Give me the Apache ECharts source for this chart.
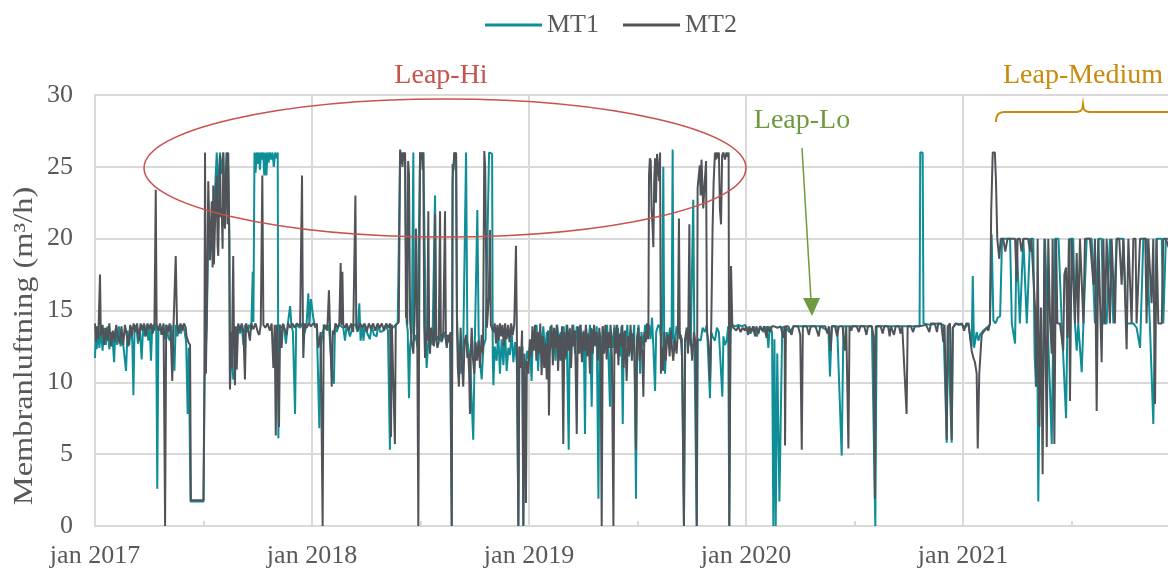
<!DOCTYPE html>
<html><head><meta charset="utf-8">
<script src="https://cdn.jsdelivr.net/npm/echarts@6/dist/echarts.min.js"></script>
<style>html,body{margin:0;padding:0;background:#fff}#c{width:1168px;height:571px}</style>
</head><body><div id="c"></div>
<script>
// x = decimal year, y = m3/h
const seriesNames = ['MT1', 'MT2'];
const yearTicks = [2017, 2018, 2019, 2020, 2021];
const yTitle = 'Membranluftning (m³/h)';

const mt2_2017 = [[2017.000,14.1],[2017.004,12.8],[2017.008,13.9],[2017.015,13.0],[2017.023,17.5],[2017.027,13.2],[2017.035,14.0],[2017.042,12.6],[2017.050,13.8],[2017.058,12.9],[2017.066,14.1],[2017.074,12.5],[2017.082,13.6],[2017.090,12.8],[2017.098,14.0],[2017.106,13.1],[2017.114,12.7],[2017.122,13.9],[2017.130,12.6],[2017.138,14.0],[2017.146,13.3],[2017.154,12.5],[2017.162,14.0],[2017.170,13.2],[2017.178,14.1],[2017.186,13.5],[2017.194,14.1],[2017.202,12.9],[2017.210,14.1],[2017.218,13.6],[2017.226,14.1],[2017.234,13.2],[2017.242,14.1],[2017.250,13.7],[2017.258,14.1],[2017.266,13.4],[2017.274,14.1],[2017.280,23.4],[2017.284,14.0],[2017.292,13.6],[2017.300,14.1],[2017.308,13.3],[2017.316,14.1],[2017.323,0],[2017.328,14.0],[2017.336,13.5],[2017.344,14.1],[2017.350,12.9],[2017.356,10.1],[2017.362,14.0],[2017.372,18.8],[2017.378,14.0],[2017.386,13.4],[2017.394,14.1],[2017.402,13.6],[2017.410,14.1],[2017.418,13.8],[2017.422,13.2],[2017.430,12.8],[2017.438,12.6],[2017.442,1.8],[2017.470,1.8],[2017.500,1.8],[2017.504,10.0],[2017.507,26.0],[2017.511,10.6],[2017.515,14.5],[2017.522,24.0],[2017.530,18.5],[2017.538,22.6],[2017.542,18.0],[2017.545,23.7],[2017.548,18.2],[2017.555,22.0],[2017.561,24.4],[2017.565,19.5],[2017.568,18.8],[2017.572,23.0],[2017.576,25.8],[2017.580,21.5],[2017.584,22.1],[2017.588,19.3],[2017.591,26.0],[2017.595,22.0],[2017.599,20.7],[2017.603,24.5],[2017.607,26.0],[2017.611,21.0],[2017.614,26.0],[2017.619,19.8],[2017.622,9.5],[2017.626,13.5],[2017.630,11.0],[2017.637,18.8],[2017.641,12.0],[2017.645,9.8],[2017.649,13.9],[2017.653,10.9],[2017.660,14.1],[2017.668,13.6],[2017.676,14.1],[2017.684,13.5],[2017.691,10.2],[2017.696,14.1],[2017.705,13.7],[2017.714,12.9],[2017.720,14.1],[2017.730,13.7],[2017.740,14.1],[2017.750,13.5],[2017.757,13.3],[2017.764,14.0],[2017.771,24.4],[2017.776,14.0],[2017.785,13.8],[2017.795,14.1],[2017.806,13.6],[2017.814,14.1],[2017.822,11.0],[2017.828,14.0],[2017.833,6.3],[2017.838,14.0],[2017.848,6.9],[2017.853,14.0],[2017.860,12.4],[2017.866,14.1],[2017.876,13.6],[2017.883,13.3],[2017.890,14.1],[2017.900,13.8],[2017.910,14.1],[2017.920,13.8],[2017.930,14.1],[2017.945,13.9],[2017.954,24.4],[2017.958,14.0],[2017.960,11.7],[2017.966,14.1],[2017.975,13.8],[2017.985,14.1],[2017.995,13.9]];

const mt2_2018 = [[2018.006,14.1],[2018.015,13.9],[2018.022,14.1],[2018.029,12.4],[2018.040,13.5],[2018.049,0],[2018.054,14.0],[2018.066,13.7],[2018.072,14.1],[2018.078,16.4],[2018.084,13.2],[2018.091,9.7],[2018.096,13.6],[2018.101,13.3],[2018.108,14.1],[2018.118,13.8],[2018.126,14.1],[2018.132,18.3],[2018.136,14.0],[2018.140,17.7],[2018.144,14.0],[2018.152,13.8],[2018.160,14.1],[2018.170,13.6],[2018.180,14.1],[2018.190,13.5],[2018.200,23.0],[2018.204,14.0],[2018.212,13.6],[2018.222,14.1],[2018.232,13.8],[2018.242,14.1],[2018.252,13.5],[2018.262,14.1],[2018.272,13.7],[2018.282,14.1],[2018.292,13.6],[2018.302,14.1],[2018.312,13.8],[2018.322,14.1],[2018.332,13.6],[2018.342,14.1],[2018.352,13.8],[2018.360,14.1],[2018.364,6.2],[2018.368,14.0],[2018.375,13.9],[2018.382,5.7],[2018.386,14.0],[2018.395,14.1],[2018.400,14.2],[2018.406,26.2],[2018.410,25.6],[2018.413,26.0],[2018.417,25.0],[2018.421,26.0],[2018.425,25.4],[2018.429,26.0],[2018.433,14.5],[2018.436,19.8],[2018.439,14.0],[2018.443,25.4],[2018.447,24.5],[2018.452,14.3],[2018.459,12.8],[2018.467,12.0],[2018.473,14.5],[2018.479,20.7],[2018.485,13.5],[2018.490,0],[2018.494,14.0],[2018.498,26.0],[2018.502,25.5],[2018.506,26.0],[2018.510,24.8],[2018.513,26.0],[2018.517,14.0],[2018.521,11.7],[2018.526,13.5],[2018.531,12.9],[2018.536,21.9],[2018.540,13.0],[2018.544,12.0],[2018.548,13.8],[2018.555,13.4],[2018.562,12.5],[2018.567,21.7],[2018.572,13.0],[2018.578,12.4],[2018.584,12.8],[2018.590,21.9],[2018.594,13.2],[2018.598,12.9],[2018.605,13.5],[2018.613,21.9],[2018.617,13.0],[2018.621,12.4],[2018.626,13.3],[2018.632,12.8],[2018.638,13.5],[2018.644,0],[2018.648,25.2],[2018.652,24.8],[2018.656,26.0],[2018.660,25.6],[2018.664,26.0],[2018.668,14.0],[2018.672,11.0],[2018.677,9.7],[2018.682,12.5],[2018.685,13.8],[2018.690,11.5],[2018.697,9.7],[2018.703,12.8],[2018.710,13.3],[2018.716,11.7],[2018.720,12.0],[2018.724,10.8],[2018.728,7.8],[2018.732,12.2],[2018.736,13.8],[2018.742,11.6],[2018.748,10.6],[2018.754,12.8],[2018.760,11.5],[2018.767,12.9],[2018.774,11.0],[2018.782,13.3],[2018.788,12.0],[2018.794,26.1],[2018.798,25.0],[2018.802,24.9],[2018.806,13.8],[2018.810,13.8],[2018.815,16.0],[2018.820,20.6],[2018.824,14.0],[2018.828,14.1],[2018.836,13.5],[2018.842,14.1],[2018.848,12.7],[2018.854,14.0],[2018.860,12.9],[2018.866,14.1],[2018.872,13.2],[2018.878,14.0],[2018.884,12.5],[2018.890,14.1],[2018.897,13.0],[2018.904,14.0],[2018.910,12.8],[2018.918,14.1],[2018.925,13.3],[2018.932,14.0],[2018.940,19.5],[2018.944,13.5],[2018.951,0],[2018.955,12.5],[2018.962,11.0],[2018.968,13.6],[2018.974,0],[2018.979,12.0],[2018.986,1.6],[2018.990,11.5],[2018.997,10.6]];

const mt2_2019 = [[2019.004,13.0],[2019.010,11.8],[2019.016,13.9],[2019.022,12.2],[2019.028,14.0],[2019.034,11.5],[2019.040,13.5],[2019.046,12.0],[2019.052,14.1],[2019.058,10.5],[2019.064,13.2],[2019.070,11.0],[2019.076,12.7],[2019.082,10.2],[2019.088,13.6],[2019.092,7.7],[2019.096,12.0],[2019.104,14.0],[2019.110,11.2],[2019.116,13.8],[2019.122,12.4],[2019.128,14.0],[2019.134,10.8],[2019.140,13.3],[2019.146,11.5],[2019.152,13.9],[2019.158,5.7],[2019.163,13.5],[2019.170,11.8],[2019.176,14.0],[2019.182,12.2],[2019.188,13.7],[2019.194,11.0],[2019.200,14.0],[2019.206,12.5],[2019.212,13.6],[2019.220,6.4],[2019.225,13.9],[2019.232,12.0],[2019.238,14.0],[2019.244,11.4],[2019.250,13.5],[2019.256,12.2],[2019.262,14.0],[2019.268,11.8],[2019.274,13.4],[2019.281,10.6],[2019.287,13.8],[2019.294,12.0],[2019.300,14.0],[2019.306,12.6],[2019.312,13.5],[2019.318,11.5],[2019.324,13.8],[2019.330,12.4],[2019.335,0],[2019.340,13.9],[2019.346,12.0],[2019.352,14.0],[2019.358,11.6],[2019.364,13.5],[2019.370,12.4],[2019.376,14.0],[2019.382,11.8],[2019.389,0],[2019.394,13.8],[2019.400,12.0],[2019.406,14.0],[2019.412,11.2],[2019.418,13.4],[2019.424,12.5],[2019.430,14.0],[2019.436,11.0],[2019.442,13.6],[2019.450,10.1],[2019.456,13.2],[2019.462,12.0],[2019.468,14.0],[2019.474,11.5],[2019.480,13.4],[2019.486,12.2],[2019.493,5.3],[2019.498,13.0],[2019.504,13.8],[2019.510,11.5],[2019.516,13.2],[2019.522,12.0],[2019.527,9.0],[2019.532,13.5],[2019.538,12.8],[2019.544,14.1],[2019.550,13.0],[2019.553,24.4],[2019.557,25.6],[2019.561,25.4],[2019.565,22.0],[2019.569,21.0],[2019.573,19.4],[2019.577,24.0],[2019.581,25.6],[2019.585,22.5],[2019.590,25.9],[2019.596,25.9],[2019.600,24.0],[2019.604,26.0],[2019.608,10.6],[2019.612,12.5],[2019.618,10.8],[2019.624,13.5],[2019.630,11.5],[2019.636,13.0],[2019.642,13.3],[2019.648,11.8],[2019.654,13.6],[2019.660,12.2],[2019.665,11.5],[2019.672,13.0],[2019.680,12.0],[2019.686,13.5],[2019.691,21.4],[2019.695,13.0],[2019.699,13.3],[2019.705,11.8],[2019.714,0],[2019.719,13.0],[2019.727,13.8],[2019.733,12.0],[2019.739,21.0],[2019.743,12.8],[2019.745,13.1],[2019.752,11.5],[2019.760,13.5],[2019.767,12.8],[2019.773,0],[2019.777,23.5],[2019.783,24.5],[2019.787,25.1],[2019.791,23.0],[2019.795,25.5],[2019.800,25.5],[2019.803,22.1],[2019.806,22.0],[2019.810,24.0],[2019.816,25.4],[2019.820,13.5],[2019.826,12.9],[2019.830,12.0],[2019.834,10.1],[2019.840,14.0],[2019.846,20.7],[2019.851,24.0],[2019.857,26.0],[2019.861,25.5],[2019.865,26.0],[2019.870,25.6],[2019.875,26.0],[2019.880,22.0],[2019.885,21.0],[2019.890,25.8],[2019.896,26.0],[2019.903,25.5],[2019.910,26.0],[2019.916,25.7],[2019.920,26.0],[2019.923,0],[2019.928,12.0],[2019.931,18.1],[2019.937,13.9],[2019.945,13.8],[2019.955,13.6],[2019.965,13.9],[2019.975,13.5],[2019.985,13.8],[2019.995,13.6]];

const mt2_2020 = [[2020.000,13.9],[2020.010,13.3],[2020.015,13.9],[2020.025,13.5],[2020.032,13.9],[2020.042,13.2],[2020.048,13.9],[2020.058,13.4],[2020.065,13.9],[2020.075,13.6],[2020.083,13.9],[2020.095,13.1],[2020.100,13.9],[2020.110,13.5],[2020.120,13.9],[2020.130,13.9],[2020.145,13.8],[2020.160,13.9],[2020.172,13.1],[2020.178,13.9],[2020.180,5.6],[2020.184,13.9],[2020.195,13.9],[2020.210,13.3],[2020.218,13.9],[2020.240,13.9],[2020.250,13.3],[2020.257,5.3],[2020.262,13.9],[2020.280,13.9],[2020.290,13.3],[2020.298,13.9],[2020.320,13.9],[2020.335,13.2],[2020.342,13.9],[2020.365,13.9],[2020.375,13.4],[2020.382,13.9],[2020.390,12.2],[2020.396,13.9],[2020.410,13.9],[2020.420,13.2],[2020.428,13.9],[2020.445,13.9],[2020.456,12.2],[2020.462,13.9],[2020.472,5.4],[2020.477,13.9],[2020.483,13.9],[2020.486,13.6],[2020.490,13.9],[2020.510,13.9],[2020.520,13.5],[2020.527,13.9],[2020.545,13.9],[2020.555,13.3],[2020.562,13.9],[2020.580,13.9],[2020.588,13.2],[2020.594,1.9],[2020.598,13.9],[2020.620,13.9],[2020.630,13.4],[2020.637,13.9],[2020.655,13.9],[2020.662,13.2],[2020.668,13.9],[2020.682,13.3],[2020.690,13.9],[2020.705,13.9],[2020.712,13.4],[2020.720,13.9],[2020.740,7.8],[2020.745,13.9],[2020.760,13.9],[2020.770,13.5],[2020.778,13.9],[2020.800,13.9],[2020.830,14.0],[2020.845,13.5],[2020.852,14.1],[2020.870,14.1],[2020.880,13.5],[2020.886,14.1],[2020.900,14.1],[2020.909,12.8],[2020.915,14.0],[2020.925,6.0],[2020.930,13.9],[2020.940,14.1],[2020.948,6.0],[2020.953,13.8],[2020.965,14.1],[2020.980,14.0],[2020.995,14.1]];

const mt2_2021 = [[2021.005,13.6],[2021.015,14.1],[2021.025,14.1],[2021.032,14.1],[2021.040,12.2],[2021.048,11.7],[2021.055,11.4],[2021.063,10.6],[2021.068,5.4],[2021.075,10.6],[2021.086,13.3],[2021.094,13.5],[2021.109,13.8],[2021.117,13.6],[2021.124,14.1],[2021.130,21.9],[2021.137,26.0],[2021.143,26.0],[2021.147,26.0],[2021.152,24.0],[2021.158,20.0],[2021.163,20.0],[2021.167,18.6],[2021.174,20.0],[2021.185,20.0],[2021.195,19.1],[2021.205,20.0],[2021.215,20.0],[2021.225,20.0],[2021.240,20.0],[2021.247,17.0],[2021.252,20.0],[2021.262,20.0],[2021.270,19.1],[2021.278,20.0],[2021.290,20.0],[2021.300,20.0],[2021.309,19.1],[2021.315,20.0],[2021.324,20.0],[2021.332,15.2],[2021.339,9.7],[2021.344,20.0],[2021.352,6.9],[2021.359,15.2],[2021.367,3.6],[2021.375,20.0],[2021.386,5.5],[2021.393,20.0],[2021.401,14.3],[2021.409,12.0],[2021.413,20.0],[2021.421,5.7],[2021.429,20.0],[2021.435,14.1],[2021.447,14.1],[2021.462,12.2],[2021.467,17.5],[2021.475,18.0],[2021.481,13.1],[2021.488,20.0],[2021.493,8.7],[2021.501,20.0],[2021.510,20.0],[2021.516,14.1],[2021.524,19.0],[2021.531,14.1],[2021.539,20.0],[2021.547,20.0],[2021.555,14.1],[2021.562,20.0],[2021.570,20.0],[2021.585,20.0],[2021.593,20.0],[2021.601,16.8],[2021.608,20.0],[2021.616,8.0],[2021.624,20.0],[2021.632,20.0],[2021.639,11.4],[2021.647,20.0],[2021.654,14.1],[2021.662,20.0],[2021.670,20.0],[2021.677,14.1],[2021.685,20.0],[2021.693,16.8],[2021.700,14.1],[2021.708,20.0],[2021.720,20.0],[2021.731,16.8],[2021.739,20.0],[2021.747,20.0],[2021.754,12.3],[2021.762,20.0],[2021.770,20.0],[2021.777,14.1],[2021.785,20.0],[2021.795,20.0],[2021.800,14.1],[2021.808,14.1],[2021.816,20.0],[2021.825,20.0],[2021.840,20.0],[2021.846,14.1],[2021.854,20.0],[2021.862,20.0],[2021.869,15.5],[2021.877,20.0],[2021.885,8.5],[2021.892,20.0],[2021.900,14.1],[2021.908,14.1],[2021.916,14.1],[2021.923,20.0],[2021.935,20.0],[2021.945,19.5],[2021.960,19.0]];

const mt1_2017 = [[2017.000,11.7],[2017.004,13.5],[2017.008,12.3],[2017.015,13.9],[2017.020,12.4],[2017.027,13.6],[2017.035,12.2],[2017.042,13.8],[2017.050,12.6],[2017.058,13.9],[2017.066,12.3],[2017.074,13.5],[2017.082,12.8],[2017.088,11.4],[2017.094,13.7],[2017.102,12.6],[2017.110,13.9],[2017.118,12.5],[2017.126,13.2],[2017.143,10.8],[2017.150,13.6],[2017.158,12.6],[2017.166,13.9],[2017.172,12.8],[2017.177,9.1],[2017.182,13.5],[2017.190,14.0],[2017.198,12.7],[2017.206,13.8],[2017.215,11.6],[2017.222,14.0],[2017.230,13.2],[2017.238,14.0],[2017.246,12.9],[2017.252,14.0],[2017.258,11.5],[2017.264,14.0],[2017.272,13.6],[2017.282,14.1],[2017.287,2.6],[2017.292,13.5],[2017.300,14.0],[2017.307,13.3],[2017.315,14.0],[2017.323,13.0],[2017.330,14.0],[2017.338,13.1],[2017.346,12.9],[2017.352,14.0],[2017.361,12.3],[2017.366,10.8],[2017.372,14.0],[2017.380,13.2],[2017.388,14.0],[2017.396,13.4],[2017.404,14.0],[2017.412,13.6],[2017.420,12.8],[2017.427,7.8],[2017.432,12.4],[2017.440,1.7],[2017.470,1.7],[2017.500,1.7],[2017.505,10.0],[2017.515,14.0],[2017.522,20.0],[2017.530,19.0],[2017.545,21.0],[2017.555,24.0],[2017.561,26.0],[2017.568,23.0],[2017.576,26.0],[2017.584,24.5],[2017.591,26.0],[2017.599,22.0],[2017.607,26.0],[2017.614,25.0],[2017.619,20.0],[2017.622,9.7],[2017.630,12.5],[2017.637,10.2],[2017.645,10.6],[2017.653,13.5],[2017.660,14.0],[2017.668,13.4],[2017.676,14.0],[2017.684,12.6],[2017.691,14.0],[2017.700,13.5],[2017.710,14.0],[2017.720,13.6],[2017.727,17.7],[2017.730,14.2],[2017.735,26.0],[2017.740,24.6],[2017.745,26.0],[2017.750,25.2],[2017.755,26.0],[2017.760,24.8],[2017.765,26.0],[2017.770,25.5],[2017.775,26.0],[2017.780,24.4],[2017.785,26.0],[2017.790,24.4],[2017.795,26.0],[2017.800,25.3],[2017.806,26.0],[2017.812,25.5],[2017.818,26.0],[2017.824,25.0],[2017.830,26.0],[2017.836,25.6],[2017.842,26.0],[2017.845,6.1],[2017.850,14.0],[2017.860,13.8],[2017.870,14.0],[2017.880,12.7],[2017.888,14.0],[2017.899,15.3],[2017.905,14.0],[2017.912,13.5],[2017.922,7.8],[2017.927,14.0],[2017.936,14.1],[2017.945,13.8],[2017.955,14.1],[2017.965,13.4],[2017.975,14.0],[2017.983,16.2],[2017.988,14.0],[2017.995,15.8]];

const mt1_2018 = [[2018.006,14.5],[2018.015,13.8],[2018.022,14.0],[2018.034,6.8],[2018.040,12.4],[2018.049,13.5],[2018.060,14.0],[2018.070,13.6],[2018.078,14.0],[2018.091,11.0],[2018.101,9.9],[2018.106,14.0],[2018.114,13.5],[2018.124,14.0],[2018.144,13.8],[2018.152,12.9],[2018.160,14.0],[2018.175,13.2],[2018.190,14.0],[2018.200,14.0],[2018.210,13.5],[2018.218,15.5],[2018.224,12.9],[2018.232,14.0],[2018.237,12.9],[2018.245,14.0],[2018.255,13.4],[2018.267,13.0],[2018.275,14.0],[2018.285,13.3],[2018.298,13.2],[2018.305,14.0],[2018.315,13.5],[2018.329,13.6],[2018.340,14.0],[2018.350,13.6],[2018.359,5.3],[2018.364,14.0],[2018.375,13.8],[2018.385,14.0],[2018.395,14.1],[2018.406,26.0],[2018.413,25.2],[2018.421,26.0],[2018.429,25.5],[2018.436,14.2],[2018.441,13.6],[2018.447,8.9],[2018.452,12.5],[2018.460,13.5],[2018.467,26.0],[2018.470,12.9],[2018.478,13.3],[2018.485,12.5],[2018.498,26.0],[2018.505,25.8],[2018.513,26.0],[2018.521,26.0],[2018.525,13.0],[2018.528,11.0],[2018.536,12.8],[2018.544,13.5],[2018.555,12.6],[2018.567,23.0],[2018.573,12.9],[2018.582,13.2],[2018.598,12.8],[2018.610,13.5],[2018.621,12.6],[2018.636,13.4],[2018.644,0],[2018.648,24.0],[2018.656,26.0],[2018.664,25.8],[2018.668,14.7],[2018.674,12.0],[2018.685,10.6],[2018.697,12.5],[2018.710,26.0],[2018.716,12.9],[2018.728,11.6],[2018.743,6.0],[2018.750,12.5],[2018.762,22.0],[2018.768,13.3],[2018.774,11.5],[2018.782,10.2],[2018.790,12.5],[2018.800,13.0],[2018.816,26.0],[2018.824,26.0],[2018.830,25.9],[2018.833,11.7],[2018.836,9.8],[2018.842,12.5],[2018.851,11.5],[2018.858,13.5],[2018.866,10.6],[2018.874,13.0],[2018.882,11.2],[2018.890,13.6],[2018.897,10.8],[2018.905,12.4],[2018.912,11.9],[2018.920,13.5],[2018.928,11.4],[2018.936,12.8],[2018.944,11.3],[2018.951,0],[2018.956,12.2],[2018.962,11.0],[2018.970,12.5],[2018.974,0],[2018.978,10.8],[2018.986,11.3],[2018.992,12.2],[2018.997,11.6]];

const mt1_2019 = [[2019.004,12.5],[2019.012,10.1],[2019.018,13.5],[2019.026,12.8],[2019.035,14.0],[2019.042,10.8],[2019.050,13.6],[2019.058,12.5],[2019.066,13.9],[2019.074,12.0],[2019.082,13.5],[2019.090,11.6],[2019.098,13.9],[2019.106,12.6],[2019.114,13.8],[2019.122,11.5],[2019.130,14.0],[2019.138,12.8],[2019.146,13.5],[2019.154,12.2],[2019.160,13.9],[2019.167,11.6],[2019.173,14.0],[2019.183,5.3],[2019.188,13.8],[2019.196,12.5],[2019.204,14.0],[2019.212,12.0],[2019.220,13.9],[2019.228,12.5],[2019.236,14.0],[2019.244,11.8],[2019.252,13.6],[2019.258,6.4],[2019.263,13.8],[2019.272,12.5],[2019.281,14.0],[2019.289,8.3],[2019.294,13.7],[2019.304,12.5],[2019.312,13.9],[2019.320,1.9],[2019.325,13.5],[2019.333,12.2],[2019.340,13.9],[2019.350,12.6],[2019.360,14.0],[2019.366,12.0],[2019.373,8.3],[2019.378,13.6],[2019.386,12.4],[2019.394,14.0],[2019.402,12.2],[2019.410,13.8],[2019.418,11.8],[2019.426,13.9],[2019.432,7.1],[2019.437,13.5],[2019.445,12.5],[2019.453,14.0],[2019.461,11.8],[2019.469,13.6],[2019.477,12.6],[2019.485,14.0],[2019.493,1.9],[2019.498,13.0],[2019.505,14.0],[2019.512,10.6],[2019.518,13.5],[2019.527,12.5],[2019.535,14.0],[2019.545,13.0],[2019.553,14.0],[2019.560,13.0],[2019.567,14.5],[2019.573,12.5],[2019.581,9.4],[2019.586,13.5],[2019.596,14.0],[2019.604,13.8],[2019.612,12.5],[2019.619,25.0],[2019.623,13.0],[2019.627,10.6],[2019.635,13.5],[2019.642,12.9],[2019.650,13.8],[2019.657,13.0],[2019.662,26.2],[2019.666,13.0],[2019.670,12.4],[2019.680,13.9],[2019.691,13.6],[2019.699,13.2],[2019.705,13.0],[2019.714,0],[2019.720,12.8],[2019.730,13.8],[2019.745,12.5],[2019.757,22.7],[2019.762,12.9],[2019.773,0],[2019.778,13.0],[2019.791,12.9],[2019.800,13.8],[2019.810,13.5],[2019.820,14.0],[2019.834,8.9],[2019.840,13.5],[2019.846,13.2],[2019.857,12.9],[2019.866,13.8],[2019.875,13.5],[2019.882,13.4],[2019.891,9.0],[2019.896,13.2],[2019.903,12.6],[2019.911,12.9],[2019.918,13.9],[2019.923,0],[2019.928,13.5],[2019.937,14.0],[2019.950,13.9],[2019.965,14.0],[2019.980,13.9],[2019.995,14.0]];

const mt1_2020 = [[2020.000,13.9],[2020.020,13.4],[2020.035,13.9],[2020.050,13.2],[2020.065,13.9],[2020.080,13.5],[2020.095,13.9],[2020.103,12.4],[2020.110,13.9],[2020.120,13.5],[2020.126,0],[2020.131,13.0],[2020.137,0],[2020.144,12.0],[2020.154,1.7],[2020.160,1.7],[2020.167,13.8],[2020.180,13.9],[2020.200,13.5],[2020.220,13.9],[2020.260,13.9],[2020.300,13.9],[2020.340,13.9],[2020.380,13.6],[2020.387,10.4],[2020.395,13.9],[2020.420,13.9],[2020.441,4.9],[2020.449,13.9],[2020.500,13.9],[2020.540,13.9],[2020.580,13.9],[2020.596,0],[2020.602,13.9],[2020.650,13.9],[2020.700,13.9],[2020.760,13.9],[2020.800,13.9],[2020.803,26.0],[2020.808,25.9],[2020.814,26.0],[2020.818,14.1],[2020.850,14.0],[2020.880,14.1],[2020.910,14.0],[2020.925,5.8],[2020.930,13.9],[2020.948,5.8],[2020.953,13.8],[2020.970,14.1],[2020.995,14.0]];

const mt1_2021 = [[2021.010,13.8],[2021.025,14.1],[2021.040,12.5],[2021.045,17.4],[2021.051,12.4],[2021.063,13.5],[2021.071,12.9],[2021.078,13.3],[2021.094,13.6],[2021.109,13.8],[2021.117,13.9],[2021.124,14.0],[2021.132,20.3],[2021.140,14.3],[2021.150,14.1],[2021.160,14.5],[2021.171,14.6],[2021.180,20.0],[2021.200,20.0],[2021.217,20.0],[2021.225,14.1],[2021.232,14.1],[2021.240,12.7],[2021.247,20.0],[2021.255,20.0],[2021.262,14.1],[2021.270,14.1],[2021.278,20.0],[2021.286,20.0],[2021.294,14.1],[2021.301,14.1],[2021.309,20.0],[2021.324,20.0],[2021.330,12.0],[2021.336,9.7],[2021.342,14.0],[2021.347,1.7],[2021.352,9.0],[2021.355,9.4],[2021.362,12.0],[2021.367,7.1],[2021.372,14.1],[2021.378,20.0],[2021.390,14.0],[2021.401,9.4],[2021.409,5.7],[2021.416,14.0],[2021.424,20.0],[2021.440,20.0],[2021.447,20.0],[2021.455,14.1],[2021.462,14.1],[2021.475,7.5],[2021.481,14.1],[2021.488,14.1],[2021.493,20.0],[2021.508,20.0],[2021.516,14.1],[2021.524,12.2],[2021.531,14.1],[2021.539,14.1],[2021.547,10.7],[2021.555,14.1],[2021.562,14.1],[2021.570,20.0],[2021.593,20.0],[2021.601,20.0],[2021.608,14.1],[2021.616,14.1],[2021.624,20.0],[2021.639,20.0],[2021.647,14.1],[2021.662,14.1],[2021.677,20.0],[2021.693,14.1],[2021.700,14.1],[2021.708,20.0],[2021.720,20.0],[2021.739,20.0],[2021.754,14.1],[2021.770,14.1],[2021.785,14.1],[2021.800,13.8],[2021.816,12.4],[2021.831,20.0],[2021.846,20.0],[2021.861,14.1],[2021.877,7.1],[2021.885,14.1],[2021.892,20.0],[2021.916,20.0],[2021.923,14.1],[2021.935,20.0],[2021.945,20.0],[2021.960,19.8]];

const mt1 = [].concat(mt1_2017, mt1_2018, mt1_2019, mt1_2020, mt1_2021);
const mt2 = [].concat(mt2_2017, mt2_2018, mt2_2019, mt2_2020, mt2_2021);

const SERIF = "'Liberation Serif','Times New Roman',serif";
const GRID = '#d9d9d9';
const TXT = '#595959';
const RED = '#c8524c', GREEN = '#6f9a3e', ORANGE = '#c98a0d';

const chart = echarts.init(document.getElementById('c'));
chart.setOption({
  animation: false,
  backgroundColor: '#fff',
  legend: {
    top: 7, left: 480, icon: 'rect', itemWidth: 57, itemHeight: 3, itemGap: 24,
    textStyle: { fontFamily: SERIF, fontSize: 26, color: TXT },
    data: seriesNames
  },
  grid: { left: 95, right: -12, top: 95, bottom: 45, containLabel: false, outerBoundsMode: 'none' },
  xAxis: {
    type: 'value', min: yearTicks[0], max: 2022, interval: 1,
    axisLine: { show: true, lineStyle: { color: GRID, width: 2 } },
    axisTick: { show: true, inside: true, length: 5, lineStyle: { color: GRID, width: 2 } },
    minorTick: { show: true, splitNumber: 2, length: 5, lineStyle: { color: GRID, width: 2 } },
    splitLine: { show: true, lineStyle: { color: GRID, width: 2 } },
    axisLabel: {
      showMaxLabel: false, margin: 17,
      fontFamily: SERIF, fontSize: 26, color: TXT,
      formatter: v => (yearTicks.indexOf(Math.round(v)) >= 0 && Math.abs(v - Math.round(v)) < 1e-6) ? 'jan ' + Math.round(v) : ''
    }
  },
  yAxis: {
    type: 'value', min: 0, max: 30, interval: 5,
    axisLine: { show: true, lineStyle: { color: GRID, width: 2 } },
    axisTick: { show: false },
    splitLine: { show: true, lineStyle: { color: GRID, width: 2 } },
    axisLabel: { margin: 22, fontFamily: SERIF, fontSize: 26, color: TXT }
  },
  series: [
    { name: 'MT1', type: 'line', data: mt1, showSymbol: false, color: '#0e8e97',
      lineStyle: { width: 2, color: '#0e8e97' }, z: 2 },
    { name: 'MT2', type: 'line', data: mt2, showSymbol: false, color: '#505358',
      lineStyle: { width: 2, color: '#505358' }, z: 3 }
  ],
  graphic: [
    { type: 'text', x: 25, y: 346, rotation: Math.PI / 2, scaleX: 1.2, z: 100,
      style: { text: yTitle, fill: TXT, font: "27px " + SERIF, textAlign: 'center', textVerticalAlign: 'middle' } },
    { type: 'ellipse', shape: { cx: 445, cy: 168, rx: 301, ry: 69 }, z: 100,
      style: { fill: 'none', stroke: RED, lineWidth: 1.5 } },
    { type: 'text', x: 441, y: 76, z: 100,
      style: { text: 'Leap-Hi', fill: RED, font: "28px " + SERIF, textAlign: 'center', textVerticalAlign: 'middle' } },
    { type: 'text', x: 802, y: 121, z: 100,
      style: { text: 'Leap-Lo', fill: GREEN, font: "28px " + SERIF, textAlign: 'center', textVerticalAlign: 'middle' } },
    { type: 'line', shape: { x1: 802, y1: 148, x2: 811, y2: 300 }, z: 100,
      style: { stroke: GREEN, lineWidth: 1.5 } },
    { type: 'polygon', shape: { points: [[803, 298], [820, 298], [812, 316]] }, z: 100,
      style: { fill: GREEN } },
    { type: 'text', x: 1083, y: 76, z: 100,
      style: { text: 'Leap-Medium', fill: ORANGE, font: "28px " + SERIF, textAlign: 'center', textVerticalAlign: 'middle' } },
    { type: 'polyline', z: 100,
      shape: { points: [[996,122],[996.4,117.5],[997.8,114.5],[1000.5,112.6],[1004,112],[1077,112],[1080.5,111],[1082.4,108.5],[1083,104],[1083.6,108.5],[1085.5,111],[1089,112],[1170,112]] },
      style: { fill: 'none', stroke: ORANGE, lineWidth: 2 } }
  ]
});
</script>
</body></html>
